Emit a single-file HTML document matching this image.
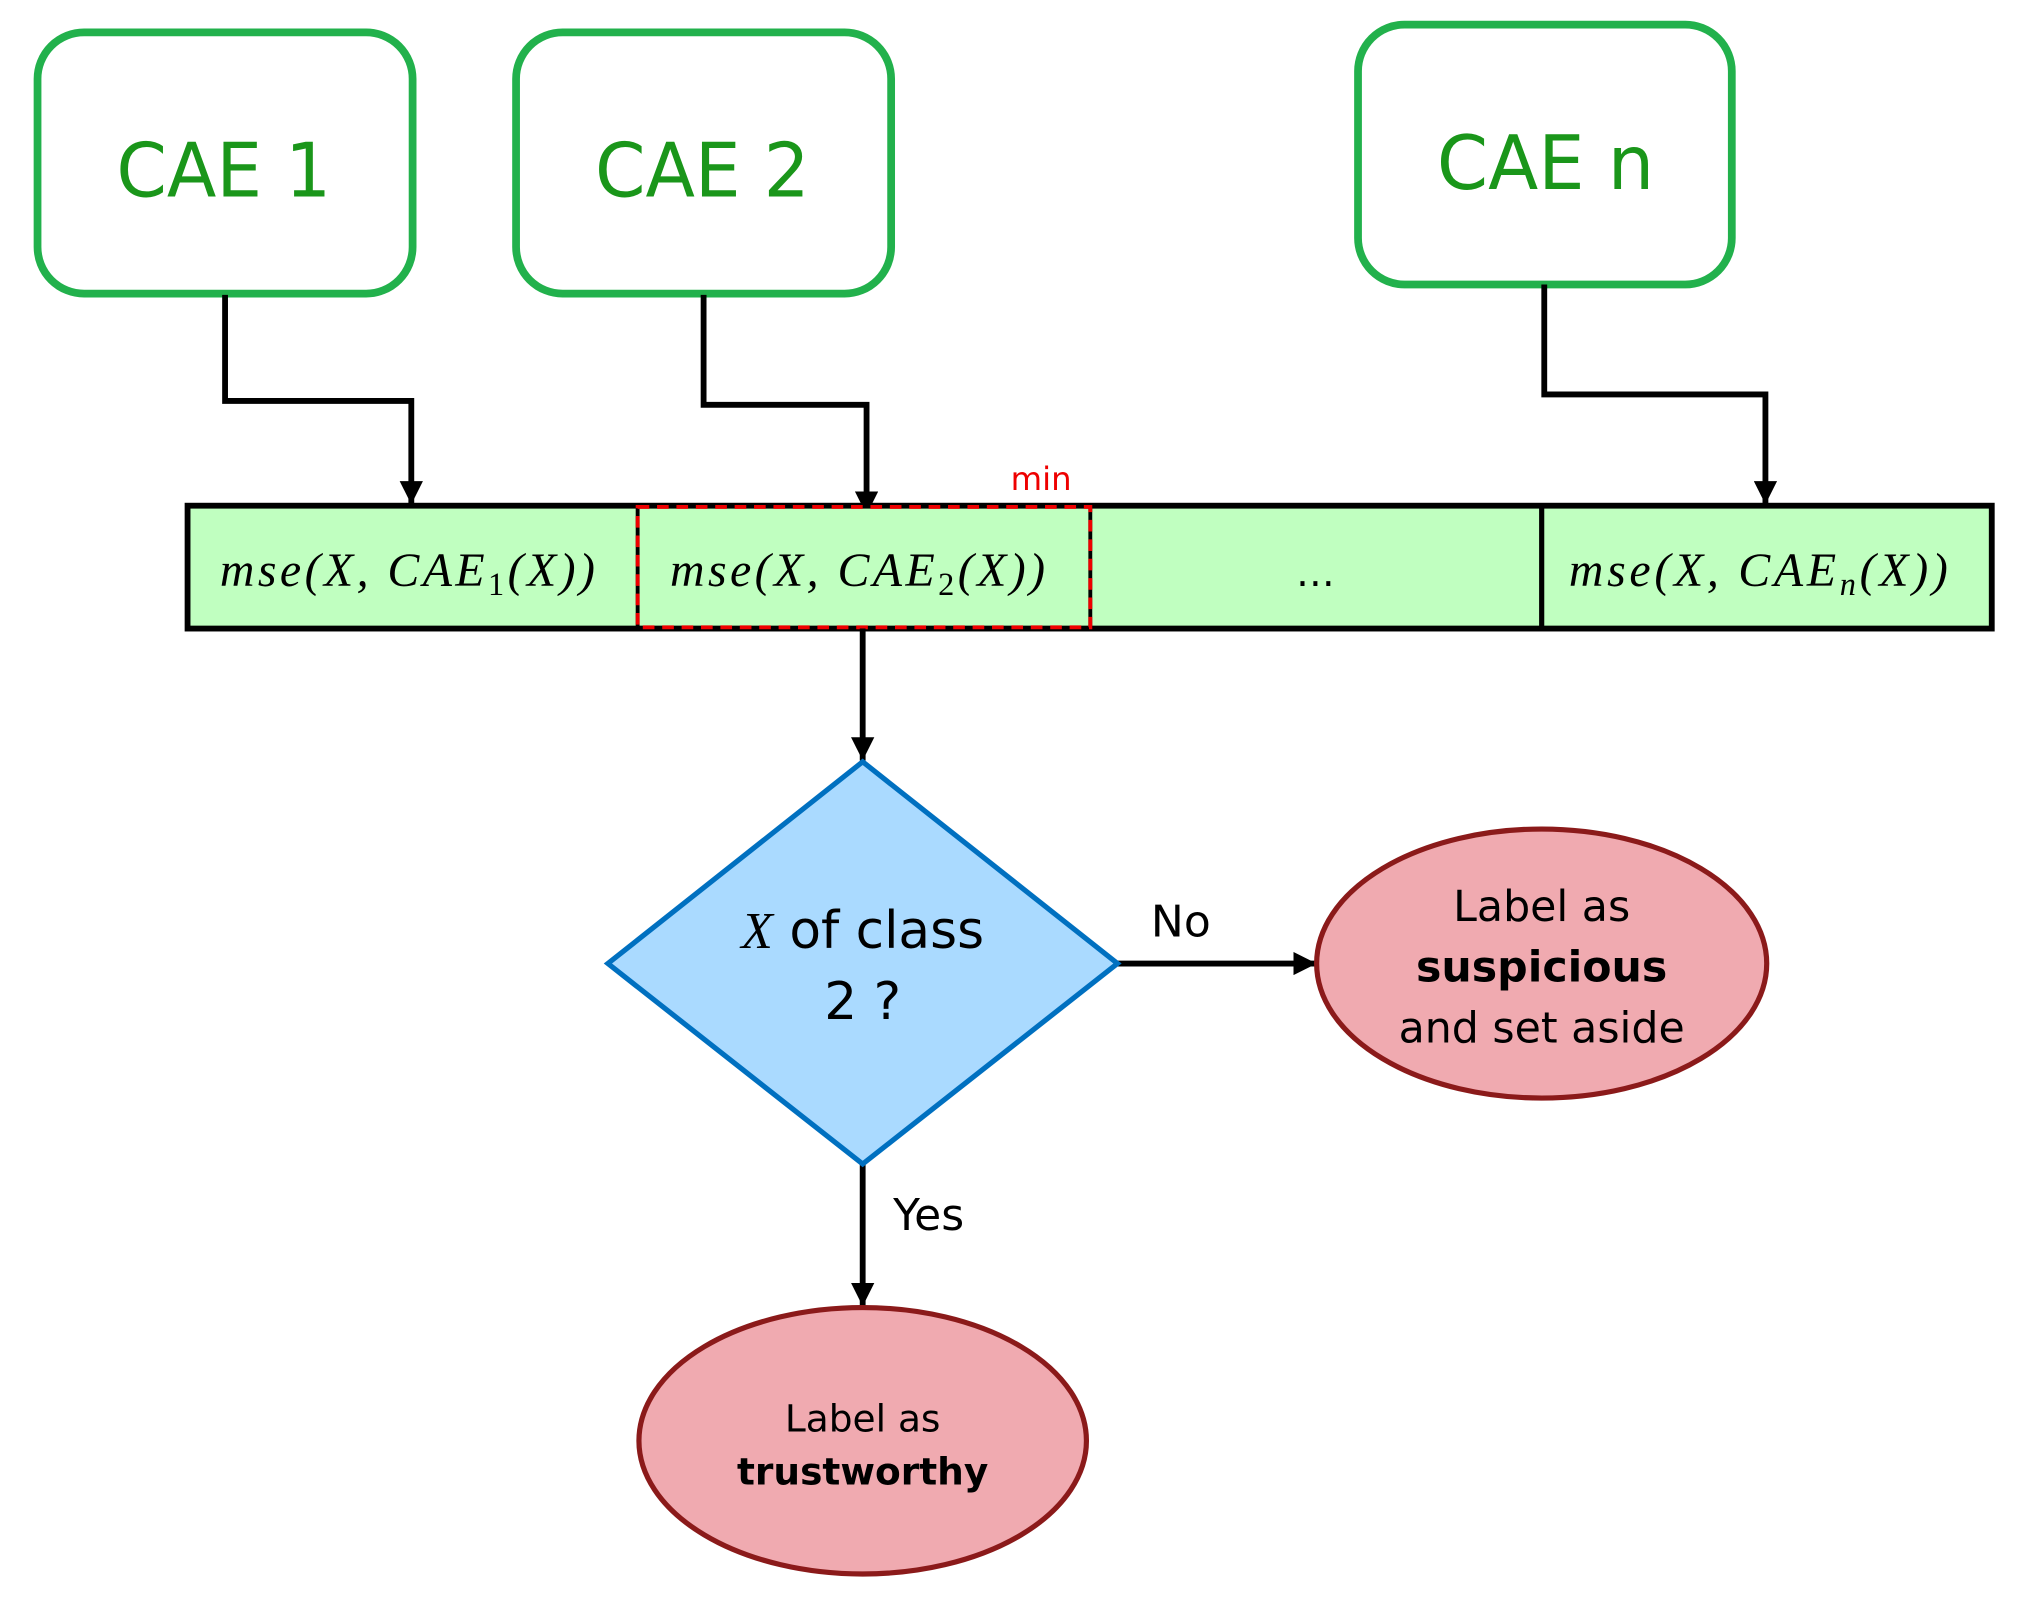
<!DOCTYPE html>
<html><head><meta charset="utf-8"><style>
html,body{margin:0;padding:0;background:#fff}
svg{display:block}
.s{font-family:"DejaVu Sans","Liberation Sans",sans-serif}
.m{font-family:"Liberation Serif",serif;font-style:italic}
</style></head><body>
<svg width="2028" height="1608" viewBox="0 0 1568 1243.3" xmlns="http://www.w3.org/2000/svg">
<defs>
<marker id="b" viewBox="0 0 10 10" markerWidth="18" markerHeight="18" refX="10" refY="5" orient="auto" markerUnits="userSpaceOnUse"><path d="M0,0 L10,5 L0,10 Z" fill="#000"/></marker></defs>
<g fill="#fff" stroke="#22b14c" stroke-width="6">
<rect x="29" y="25" width="290" height="202" rx="36"/>
<rect x="399" y="25" width="290" height="202" rx="36"/>
<rect x="1050" y="19" width="289" height="201" rx="36"/>
</g>
<g class="s" fill="#1a961a" font-size="58" text-anchor="middle">
<text x="173" y="152" textLength="166" lengthAdjust="spacingAndGlyphs">CAE 1</text>
<text x="543" y="152" textLength="166" lengthAdjust="spacingAndGlyphs">CAE 2</text>
<text x="1195" y="146" textLength="168" lengthAdjust="spacingAndGlyphs">CAE n</text>
</g>
<g fill="none" stroke="#000" stroke-width="4.5">
<path d="M174,228 V310 H318 V390" marker-end="url(#b)"/>
<path d="M544,228 V313 H670 V398" marker-end="url(#b)"/>
<path d="M1194,220 V305 H1365 V390" marker-end="url(#b)"/>
</g>
<rect x="145" y="391" width="1395" height="95" fill="#c0ffc0" stroke="#000" stroke-width="4.5"/>
<line x1="1192" y1="391" x2="1192" y2="486" stroke="#000" stroke-width="4"/>
<line x1="843" y1="391" x2="843" y2="486" stroke="#000" stroke-width="3"/>
<line x1="493" y1="391" x2="493" y2="486" stroke="#000" stroke-width="3"/>
<rect x="493" y="392" width="350" height="93" fill="none" stroke="#e00" stroke-width="3" stroke-dasharray="9,6"/>
<text x="805" y="379" class="s" fill="#e00" font-size="25" text-anchor="middle">min</text>
<g class="m" font-size="37">
<text x="170" y="453" textLength="290" lengthAdjust="spacing">mse(X, CAE<tspan font-size="25" dy="7" font-style="normal">1</tspan><tspan dy="-7">(X))</tspan></text>
<text x="518" y="453" textLength="290" lengthAdjust="spacing">mse(X, CAE<tspan font-size="25" dy="7" font-style="normal">2</tspan><tspan dy="-7">(X))</tspan></text>
<text x="1213" y="453" textLength="293" lengthAdjust="spacing">mse(X, CAE<tspan font-size="25" dy="7">n</tspan><tspan dy="-7">(X))</tspan></text>
</g>
<text x="1017" y="453" class="s" font-size="30" text-anchor="middle">…</text>
<g fill="none" stroke="#000" stroke-width="4.5">
<path d="M667,486 V588" marker-end="url(#b)"/>
<path d="M864,745 H1018" marker-end="url(#b)"/>
<path d="M667,900 V1010" marker-end="url(#b)"/>
</g>
<polygon points="667,589 864,745 667,900 470,745" fill="#aadaff" stroke="#0070c0" stroke-width="4"/>
<text x="667" y="733" font-size="40" text-anchor="middle" class="s"><tspan class="m">X</tspan> of class</text>
<text x="667" y="788" font-size="40" text-anchor="middle" class="s">2 ?</text>
<text x="913" y="724" font-size="34" text-anchor="middle" class="s">No</text>
<text x="718" y="951" font-size="34" text-anchor="middle" class="s">Yes</text>
<ellipse cx="1192" cy="745" rx="174" ry="104" fill="#f0aab0" stroke="#8b1a1a" stroke-width="4"/>
<g class="s" font-size="33" text-anchor="middle">
<text x="1192" y="712">Label as</text>
<text x="1192" y="759" font-weight="bold">suspicious</text>
<text x="1192" y="806">and set aside</text>
</g>
<ellipse cx="667" cy="1114" rx="173" ry="103" fill="#f0aab0" stroke="#8b1a1a" stroke-width="4"/>
<g class="s" font-size="29" text-anchor="middle">
<text x="667" y="1107">Label as</text>
<text x="667" y="1148" font-weight="bold">trustworthy</text>
</g>
</svg>
</body></html>
